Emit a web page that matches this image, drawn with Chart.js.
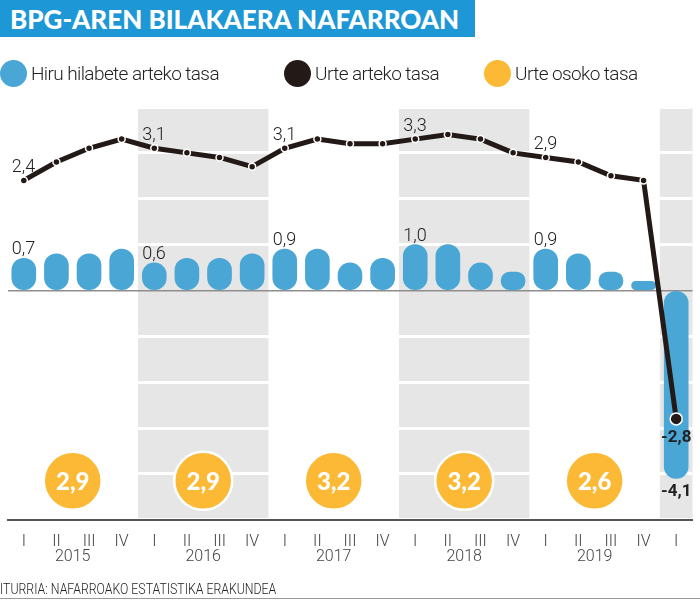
<!DOCTYPE html>
<html>
<head>
<meta charset="utf-8">
<script src="https://cdn.jsdelivr.net/npm/chart.js@4.4.1/dist/chart.umd.min.js"></script>
<style>
  html, body { margin: 0; padding: 0; background: #fff; }
  #wrap { position: relative; width: 700px; height: 600px; overflow: hidden; font-family: Roboto, sans-serif; }
  #chart { position: absolute; left: 0; top: 0; }
  .title {
    position: absolute; left: 0; top: 0; width: 475px; height: 37px;
    background: #1d97d5; color: #fff; box-sizing: border-box; padding-left: 10px;
    font-family: Lato, sans-serif; font-weight: 900; font-size: 26px; line-height: 38px;
    white-space: nowrap; letter-spacing: 0px;
  }
  .legend-item { position: absolute; top: 60px; height: 27px; white-space: nowrap; }
  .legend-item i { position: absolute; left: 0; top: 0; width: 27px; height: 27px; border-radius: 50%; }
  .legend-item span {
    position: absolute; left: 31px; top: 0; line-height: 27px;
    font-size: 19px; font-weight: 300; color: #222; letter-spacing: -0.6px;
  }
  .source {
    position: absolute; left: 0; top: 580px; font-size: 15px; font-weight: 300; color: #222;
    white-space: nowrap; transform: scaleX(0.82); transform-origin: left center;
  }
  .rule { position: absolute; left: 0; top: 598px; width: 700px; height: 1px; background: #9a9a9a; }
</style>
</head>
<body>
<div id="wrap">
  <canvas id="chart" width="700" height="600"></canvas>
  <div class="title">BPG-AREN BILAKAERA NAFARROAN</div>
  <div class="legend-item" style="left:0px"><i style="background:#4aa6d4"></i><span>Hiru hilabete arteko tasa</span></div>
  <div class="legend-item" style="left:284px"><i style="background:#231916"></i><span>Urte arteko tasa</span></div>
  <div class="legend-item" style="left:484px"><i style="background:#fbb936"></i><span>Urte osoko tasa</span></div>
  <div class="source">ITURRIA: NAFARROAKO ESTATISTIKA ERAKUNDEA</div>
  <div class="rule"></div>
</div>
<script>
// Quarters 2015 I .. 2020 I
const quarterLabels = ['I', 'II', 'III', 'IV', 'I', 'II', 'III', 'IV', 'I', 'II', 'III', 'IV',
  'I', 'II', 'III', 'IV', 'I', 'II', 'III', 'IV', 'I'];
const yearLabels = ['2015', '2016', '2017', '2018', '2019'];

// Hiru hilabete arteko tasa (quarter on quarter)
const quarterRate = [0.7, 0.8, 0.8, 0.9, 0.6, 0.7, 0.7, 0.8, 0.9, 0.9, 0.6, 0.7,
  1.0, 1.0, 0.6, 0.4, 0.9, 0.8, 0.4, 0.2, -4.1];
// Urte arteko tasa (year on year)
const yearOnYearRate = [2.4, 2.8, 3.1, 3.3, 3.1, 3.0, 2.9, 2.7, 3.1, 3.3, 3.2, 3.2,
  3.3, 3.4, 3.3, 3.0, 2.9, 2.8, 2.5, 2.4, -2.8];
// Urte osoko tasa (whole year)
const annualRate = [2.9, 2.9, 3.2, 3.2, 2.6];

// years with a grey backdrop (index into years, 5 = 2020)
const shadedYears = [1, 3, 5];

const fmt = v => v.toFixed(1).replace('.', ',');

// Grey bands behind alternate years
const yearBands = {
  id: 'yearBands',
  beforeDraw(chart) {
    const { ctx, chartArea, scales: { x } } = chart;
    const half = (x.getPixelForValue(1) - x.getPixelForValue(0)) / 2;
    const last = quarterLabels.length - 1;
    ctx.save();
    ctx.fillStyle = '#e6e6e6';
    shadedYears.forEach(y => {
      const first = y * 4;
      const end = Math.min(first + 3, last);
      const x0 = x.getPixelForValue(first) - half;
      const x1 = end === last ? chartArea.right : x.getPixelForValue(end) + half;
      ctx.fillRect(x0, chartArea.top, x1 - x0, chartArea.bottom - chartArea.top);
    });
    ctx.restore();
  }
};

// Value labels, annual rate circles and year labels
const annotations = {
  id: 'annotations',
  afterDatasetsDraw(chart) {
    const { ctx, chartArea, scales: { x } } = chart;
    const bars = chart.getDatasetMeta(0).data;
    const points = chart.getDatasetMeta(1).data;
    const last = quarterLabels.length - 1;
    ctx.save();

    // first quarter of each year
    ctx.fillStyle = '#222';
    ctx.font = '300 18px Roboto';
    ctx.textAlign = 'left';
    ctx.textBaseline = 'alphabetic';
    for (let i = 0; i < last; i += 4) {
      ctx.fillText(fmt(quarterRate[i]), bars[i].x - 12, bars[i].y - 4);
      ctx.fillText(fmt(yearOnYearRate[i]), points[i].x - 12, points[i].y - 8);
    }

    // latest quarter, bold under the marks
    ctx.font = 'bold 17px Roboto';
    ctx.textAlign = 'center';
    ctx.textBaseline = 'middle';
    ctx.fillText(fmt(yearOnYearRate[last]), points[last].x, points[last].y + 19);
    ctx.fillText(fmt(quarterRate[last]), bars[last].x, bars[last].y + 13);

    // annual rate circles
    annualRate.forEach((v, i) => {
      const cx = (x.getPixelForValue(i * 4 + 1) + x.getPixelForValue(i * 4 + 2)) / 2;
      const cy = chartArea.bottom - 39;
      ctx.beginPath();
      ctx.arc(cx, cy, 29, 0, Math.PI * 2);
      ctx.fillStyle = '#fbb936';
      ctx.fill();
      ctx.lineWidth = 2.5;
      ctx.strokeStyle = '#fff';
      ctx.stroke();
      ctx.fillStyle = '#fff';
      ctx.font = '900 24px Lato';
      ctx.fillText(fmt(v), cx, cy + 1);
    });

    // year labels under the quarter ticks
    ctx.fillStyle = '#444';
    ctx.font = '300 16px Roboto';
    yearLabels.forEach((yr, i) => {
      const cx = (x.getPixelForValue(i * 4 + 1) + x.getPixelForValue(i * 4 + 2)) / 2;
      ctx.fillText(yr, cx, chartArea.bottom + 37);
    });
    ctx.restore();
  }
};

new Chart(document.getElementById('chart'), {
  type: 'bar',
  data: {
    labels: quarterLabels,
    datasets: [{
      type: 'bar',
      label: 'Hiru hilabete arteko tasa',
      data: quarterRate,
      backgroundColor: '#4aa6d4',
      barThickness: 24,
      borderRadius: 12,
      borderSkipped: false,
      order: 2
    }, {
      type: 'line',
      label: 'Urte arteko tasa',
      data: yearOnYearRate,
      borderColor: '#231916',
      borderWidth: 5,
      tension: 0,
      pointRadius: yearOnYearRate.map((v, i) => i === yearOnYearRate.length - 1 ? 6 : 3.5),
      pointBackgroundColor: '#231916',
      pointBorderColor: '#fff',
      pointBorderWidth: 1.5,
      order: 1
    }]
  },
  options: {
    responsive: false,
    animation: false,
    layout: { padding: { top: 107, left: 0, right: 0, bottom: 35 } },
    plugins: { legend: { display: false }, tooltip: { enabled: false } },
    scales: {
      x: {
        grid: { display: false, drawTicks: false },
        border: { color: '#555', width: 2 },
        ticks: { color: '#444', padding: 13, font: { family: 'Roboto', weight: '300', size: 16 } }
      },
      y: {
        min: -5,
        max: 4,
        ticks: { display: false, stepSize: 1 },
        border: { display: false },
        grid: {
          drawTicks: false,
          color: c => c.tick.value === 0 ? '#8e8e8e' : '#ffffff',
          lineWidth: c => c.tick.value === 0 ? 1.5 : 3
        }
      }
    }
  },
  plugins: [yearBands, annotations]
});
</script>
</body>
</html>
